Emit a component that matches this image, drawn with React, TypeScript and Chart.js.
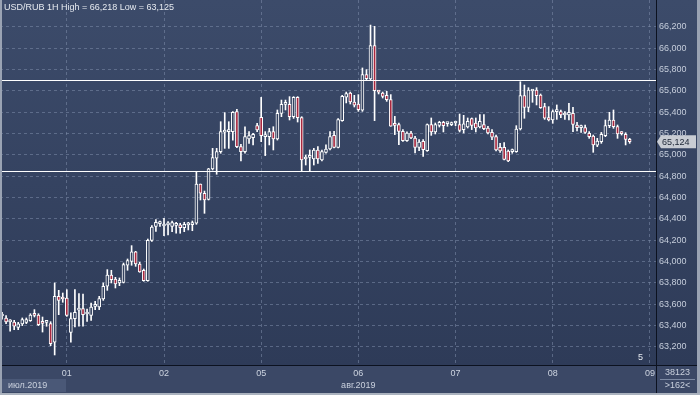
import React, { useEffect, useRef } from 'react';
import { Chart, registerables } from 'chart.js';

Chart.register(...registerables);

// ---- DATA (USD/RUB, 1H candles) ----
const OPEN = [
  63.490, 63.472, 63.436, 63.434, 63.384, 63.416, 63.431, 63.447, 63.500, 63.500,
  63.440, 63.431, 63.419, 63.244, 63.675, 63.656, 63.659, 63.337, 63.466, 63.545,
  63.560, 63.509, 63.497, 63.580, 63.575, 63.650, 63.769, 63.875, 63.837, 63.800,
  63.806, 63.966, 64.003, 64.091, 63.978, 63.919, 63.822, 64.200, 64.331, 64.356,
  64.334, 64.344, 64.331, 64.340, 64.344, 64.319, 64.344, 64.347, 64.360, 64.728,
  64.641, 64.584, 64.869, 64.969, 65.031, 65.215, 65.219, 65.219, 65.406, 65.078,
  65.031, 65.150, 65.162, 65.275, 65.353, 65.172, 65.172, 65.219, 65.150, 65.390,
  65.475, 65.475, 65.359, 65.540, 65.350, 64.962, 64.978, 64.962, 65.047, 64.953,
  65.025, 65.056, 65.184, 65.072, 65.322, 65.541, 65.581, 65.497, 65.478, 65.419,
  65.753, 65.712, 66.025, 65.594, 65.581, 65.559, 65.519, 65.281, 65.284, 65.222,
  65.134, 65.206, 65.159, 65.072, 65.128, 65.041, 65.284, 65.216, 65.278, 65.306,
  65.294, 65.284, 65.300, 65.284, 65.238, 65.262, 65.341, 65.300, 65.262, 65.284,
  65.253, 65.212, 65.172, 65.072, 65.072, 65.037, 65.031, 65.031, 65.244, 65.556,
  65.447, 65.600, 65.609, 65.562, 65.453, 65.350, 65.328, 65.406, 65.406, 65.375,
  65.375, 65.391, 65.281, 65.256, 65.256, 65.203, 65.178, 65.091, 65.125, 65.181,
  65.275, 65.328, 65.266, 65.203, 65.194, 65.147,
];
const HIGH = [
  63.525, 63.494, 63.456, 63.450, 63.431, 63.472, 63.472, 63.512, 63.550, 63.512,
  63.481, 63.447, 63.437, 63.800, 63.731, 63.706, 63.737, 63.519, 63.737, 63.700,
  63.697, 63.556, 63.612, 63.628, 63.675, 63.800, 63.925, 63.919, 63.853, 63.847,
  63.987, 64.025, 64.150, 64.097, 63.994, 63.931, 64.212, 64.337, 64.394, 64.381,
  64.406, 64.375, 64.381, 64.369, 64.360, 64.369, 64.369, 64.381, 64.844, 64.728,
  64.662, 64.875, 65.062, 65.062, 65.312, 65.397, 65.312, 65.406, 65.428, 65.100,
  65.265, 65.219, 65.203, 65.297, 65.540, 65.219, 65.250, 65.265, 65.422, 65.515,
  65.515, 65.547, 65.547, 65.547, 65.359, 65.000, 65.047, 65.062, 65.078, 65.047,
  65.094, 65.219, 65.222, 65.341, 65.559, 65.590, 65.590, 65.559, 65.566, 65.816,
  65.800, 66.218, 66.206, 65.603, 65.590, 65.597, 65.566, 65.362, 65.300, 65.238,
  65.216, 65.222, 65.175, 65.144, 65.144, 65.291, 65.347, 65.300, 65.316, 65.316,
  65.306, 65.309, 65.316, 65.384, 65.372, 65.347, 65.347, 65.347, 65.378, 65.378,
  65.269, 65.237, 65.187, 65.109, 65.116, 65.047, 65.056, 65.275, 65.687, 65.656,
  65.631, 65.609, 65.631, 65.572, 65.484, 65.453, 65.422, 65.469, 65.422, 65.406,
  65.484, 65.447, 65.306, 65.281, 65.281, 65.219, 65.187, 65.156, 65.212, 65.328,
  65.400, 65.422, 65.281, 65.219, 65.209, 65.156,
];
const LOW = [
  63.460, 63.419, 63.347, 63.362, 63.362, 63.400, 63.419, 63.440, 63.481, 63.400,
  63.340, 63.394, 63.212, 63.125, 63.503, 63.619, 63.487, 63.244, 63.387, 63.394,
  63.394, 63.440, 63.450, 63.550, 63.550, 63.637, 63.731, 63.800, 63.753, 63.775,
  63.800, 63.919, 63.966, 63.956, 63.900, 63.816, 63.816, 64.190, 64.284, 64.331,
  64.244, 64.250, 64.281, 64.266, 64.266, 64.281, 64.297, 64.290, 64.350, 64.578,
  64.453, 64.578, 64.859, 64.819, 65.016, 65.062, 65.062, 65.140, 65.069, 64.944,
  65.016, 65.109, 65.094, 65.219, 65.125, 64.994, 65.094, 65.047, 65.140, 65.359,
  65.422, 65.328, 65.343, 65.309, 64.850, 64.906, 64.850, 64.906, 64.922, 64.944,
  65.016, 65.047, 65.066, 65.066, 65.316, 65.488, 65.478, 65.450, 65.409, 65.409,
  65.706, 65.706, 65.322, 65.572, 65.534, 65.503, 65.269, 65.191, 65.097, 65.128,
  65.128, 65.153, 65.019, 65.041, 64.987, 65.034, 65.184, 65.197, 65.262, 65.216,
  65.269, 65.275, 65.275, 65.216, 65.206, 65.253, 65.238, 65.216, 65.253, 65.238,
  65.197, 65.144, 65.037, 65.025, 64.953, 64.937, 65.016, 65.025, 65.234, 65.344,
  65.406, 65.494, 65.469, 65.437, 65.334, 65.319, 65.297, 65.334, 65.350, 65.334,
  65.328, 65.219, 65.225, 65.212, 65.203, 65.156, 65.025, 65.078, 65.109, 65.172,
  65.256, 65.250, 65.156, 65.187, 65.094, 65.109,
];
const CLOSE = [
  63.490, 63.434, 63.445, 63.394, 63.416, 63.456, 63.456, 63.500, 63.497, 63.409,
  63.420, 63.431, 63.231, 63.675, 63.637, 63.650, 63.497, 63.466, 63.525, 63.550,
  63.503, 63.509, 63.575, 63.584, 63.653, 63.769, 63.875, 63.831, 63.791, 63.825,
  63.972, 64.009, 64.091, 63.978, 63.903, 63.822, 64.200, 64.325, 64.369, 64.360,
  64.353, 64.344, 64.366, 64.344, 64.319, 64.350, 64.344, 64.350, 64.728, 64.641,
  64.578, 64.869, 64.975, 65.031, 65.219, 65.219, 65.219, 65.400, 65.078, 65.031,
  65.172, 65.181, 65.194, 65.234, 65.181, 65.172, 65.219, 65.150, 65.390, 65.475,
  65.478, 65.359, 65.540, 65.350, 64.953, 64.978, 64.978, 65.047, 64.962, 65.031,
  65.056, 65.172, 65.072, 65.331, 65.550, 65.575, 65.497, 65.466, 65.425, 65.753,
  65.716, 66.025, 65.603, 65.590, 65.550, 65.519, 65.269, 65.278, 65.222, 65.134,
  65.206, 65.159, 65.072, 65.122, 65.050, 65.284, 65.216, 65.284, 65.306, 65.275,
  65.297, 65.300, 65.300, 65.231, 65.291, 65.316, 65.278, 65.253, 65.316, 65.247,
  65.206, 65.166, 65.047, 65.037, 64.959, 64.944, 65.031, 65.244, 65.556, 65.447,
  65.609, 65.603, 65.556, 65.444, 65.344, 65.328, 65.406, 65.409, 65.375, 65.375,
  65.400, 65.287, 65.256, 65.256, 65.212, 65.172, 65.094, 65.131, 65.194, 65.275,
  65.328, 65.266, 65.197, 65.200, 65.147, 65.124,
];

const SLOT_COUNT = 162;
const DAY_TICK_INDEX = [16, 40, 64, 88, 112, 136, 160];
const DAY_TICK_LABELS = ['01', '02', '05', '06', '07', '08', '09'];
const MONTH_LABELS = ['июл.2019', 'авг.2019'];
const MONTH_INDEX = [-1, 88];
const LEVELS = [65.7, 64.85];
const SYMBOL = 'USD/RUB 1H';
const BAR_COUNT_TEXT = '38123';
const VISIBLE_TEXT = '>162<';
const Y_MIN = 63.031;
const Y_MAX = 66.453;
const Y_STEP = 0.2;
const Y_TICK_FIRST = 63.2;
const Y_TICK_LAST = 66.2;

const FONT = "'Liberation Sans', Arial, sans-serif";
const fmt = (v: number) => v.toFixed(3).replace('.', ',');

const chromePlugin = {
  id: 'chrome',
  beforeDraw(chart: any) {
    const { ctx, chartArea: a, width, height } = chart;
    ctx.save();
    const g = ctx.createLinearGradient(0, 0, 0, a.bottom);
    g.addColorStop(0, '#3c4b6a');
    g.addColorStop(1, '#2e3b58');
    ctx.fillStyle = g;
    ctx.fillRect(0, 0, width, a.bottom);
    ctx.fillStyle = '#3b4866';
    ctx.fillRect(0, a.bottom, width, height - a.bottom);
    ctx.restore();
  },
  afterDatasetsDraw(chart: any) {
    const { ctx, chartArea: a, scales } = chart;
    ctx.save();
    ctx.strokeStyle = '#ffffff';
    ctx.lineWidth = 1;
    LEVELS.forEach((lv) => {
      const y = Math.round(scales.y.getPixelForValue(lv)) + 0.5;
      ctx.beginPath();
      ctx.moveTo(a.left, y);
      ctx.lineTo(a.right, y);
      ctx.stroke();
    });
    ctx.restore();
  },
  afterDraw(chart: any) {
    const { ctx, chartArea: a, scales, width, height } = chart;
    ctx.save();
    // separators
    ctx.strokeStyle = '#0c1220';
    ctx.lineWidth = 1;
    ctx.beginPath();
    ctx.moveTo(Math.round(a.right) + 0.5, 0);
    ctx.lineTo(Math.round(a.right) + 0.5, height);
    ctx.moveTo(0, Math.round(a.bottom) + 0.5);
    ctx.lineTo(width, Math.round(a.bottom) + 0.5);
    ctx.stroke();
    // frame
    ctx.fillStyle = '#9aa3b3';
    ctx.fillRect(0, 0, 2, height);
    ctx.fillRect(width - 3, 0, 3, height);
    ctx.fillStyle = '#aab2be';
    ctx.fillRect(0, height - 2, width, 2);

    // title
    const hi = Math.max(...HIGH);
    const lo = Math.min(...LOW);
    ctx.fillStyle = '#e6eaf0';
    ctx.font = `9px ${FONT}`;
    ctx.textBaseline = 'middle';
    ctx.textAlign = 'left';
    ctx.fillText(`${SYMBOL} High = ${fmt(hi)} Low = ${fmt(lo)}`, 4, 8);

    // last price tag
    const last = CLOSE[CLOSE.length - 1];
    const py = scales.y.getPixelForValue(last);
    const x0 = a.right + 1;
    ctx.fillStyle = '#c8ccd3';
    ctx.beginPath();
    ctx.moveTo(x0, py);
    ctx.lineTo(x0 + 4, py - 6.5);
    ctx.lineTo(x0 + 39, py - 6.5);
    ctx.lineTo(x0 + 39, py + 6.5);
    ctx.lineTo(x0 + 4, py + 6.5);
    ctx.closePath();
    ctx.fill();
    ctx.fillStyle = '#1c2535';
    ctx.fillText(fmt(last), x0 + 5, py + 0.5);

    // "5" marker
    ctx.fillStyle = '#e6eaf0';
    ctx.fillText('5', a.right - 18, a.bottom - 7);

    // month row
    const rowY = a.bottom + 21;
    ctx.fillStyle = '#4a5877';
    ctx.fillRect(2, a.bottom + 14, 64, 13);
    ctx.fillStyle = '#c9d0dd';
    ctx.textAlign = 'left';
    ctx.fillText(MONTH_LABELS[0], 8, rowY);
    ctx.textAlign = 'center';
    ctx.fillText(MONTH_LABELS[1], scales.x.getPixelForValue(MONTH_INDEX[1]), rowY);

    // bottom right counters
    const cx = (a.right + width - 3) / 2 + 1;
    ctx.fillText(BAR_COUNT_TEXT, cx, a.bottom + 8);
    ctx.fillText(VISIBLE_TEXT, cx, rowY);
    ctx.strokeStyle = '#7d8aa3';
    ctx.beginPath();
    ctx.moveTo(a.right + 4, a.bottom + 14.5);
    ctx.lineTo(width - 5, a.bottom + 14.5);
    ctx.stroke();
    ctx.restore();
  },
};

export default function App() {
  const ref = useRef<HTMLCanvasElement>(null);
  useEffect(() => {
    document.body.style.margin = '0';
    const labels = Array.from({ length: SLOT_COUNT }, (_, i) => String(i));
    const wickData = LOW.map((l, i) => [l, HIGH[i]]);
    const bodyData = OPEN.map((o, i) => [o, CLOSE[i]]);
    const bodyColors = OPEN.map((o, i) => (CLOSE[i] < o ? '#a8283f' : '#34425f'));
    const gridColor = 'rgba(125,140,170,0.55)';

    const chart = new Chart(ref.current as HTMLCanvasElement, {
      type: 'bar',
      data: {
        labels,
        datasets: [
          {
            label: 'body',
            data: bodyData as any,
            backgroundColor: bodyColors,
            borderColor: '#ffffff',
            borderWidth: 1,
            borderSkipped: false,
            barThickness: 3,
            minBarLength: 2,
            grouped: false,
            order: 0,
          } as any,
          {
            label: 'wick',
            data: wickData as any,
            backgroundColor: '#ffffff',
            borderWidth: 0,
            barThickness: 1,
            grouped: false,
            order: 1,
          } as any,
        ],
      },
      options: {
        responsive: false,
        animation: false,
        devicePixelRatio: 1,
        layout: { padding: 0 },
        plugins: { legend: { display: false }, tooltip: { enabled: false } },
        scales: {
          x: {
            type: 'category',
            offset: true,
            grid: {
              offset: false,
              drawTicks: false,
              color: (c: any) => (DAY_TICK_INDEX.includes(c.index) ? gridColor : 'rgba(0,0,0,0)'),
            },
            border: { display: false, dash: [3, 3] },
            ticks: {
              autoSkip: false,
              maxRotation: 0,
              minRotation: 0,
              padding: 3,
              color: '#cdd4e0',
              font: { family: FONT, size: 9 },
              callback: (_v: any, i: number) => {
                const k = DAY_TICK_INDEX.indexOf(i);
                return k >= 0 ? DAY_TICK_LABELS[k] : '';
              },
            },
            afterFit: (s: any) => {
              s.height = 30;
              s.paddingLeft = 0;
              s.paddingRight = 0;
            },
          },
          y: {
            type: 'linear',
            position: 'right',
            min: Y_MIN,
            max: Y_MAX,
            grid: { drawTicks: false, color: gridColor },
            border: { display: false, dash: [3, 3] },
            ticks: {
              stepSize: Y_STEP,
              includeBounds: false,
              padding: 3,
              color: '#c5cddb',
              font: { family: FONT, size: 9 },
              callback: (v: any) => fmt(Number(v)),
            },
            afterBuildTicks: (s: any) => {
              s.ticks = s.ticks.filter(
                (t: any) => t.value >= Y_TICK_FIRST - 1e-6 && t.value <= Y_TICK_LAST + 1e-6,
              );
            },
            afterFit: (s: any) => {
              s.width = 44;
              s.paddingTop = 0;
              s.paddingBottom = 0;
            },
          },
        },
      } as any,
      plugins: [chromePlugin],
    });
    return () => chart.destroy();
  }, []);
  return (
    <div style={{ width: 700, height: 395 }}>
      <canvas ref={ref} width={700} height={395} style={{ display: 'block' }} />
    </div>
  );
}
